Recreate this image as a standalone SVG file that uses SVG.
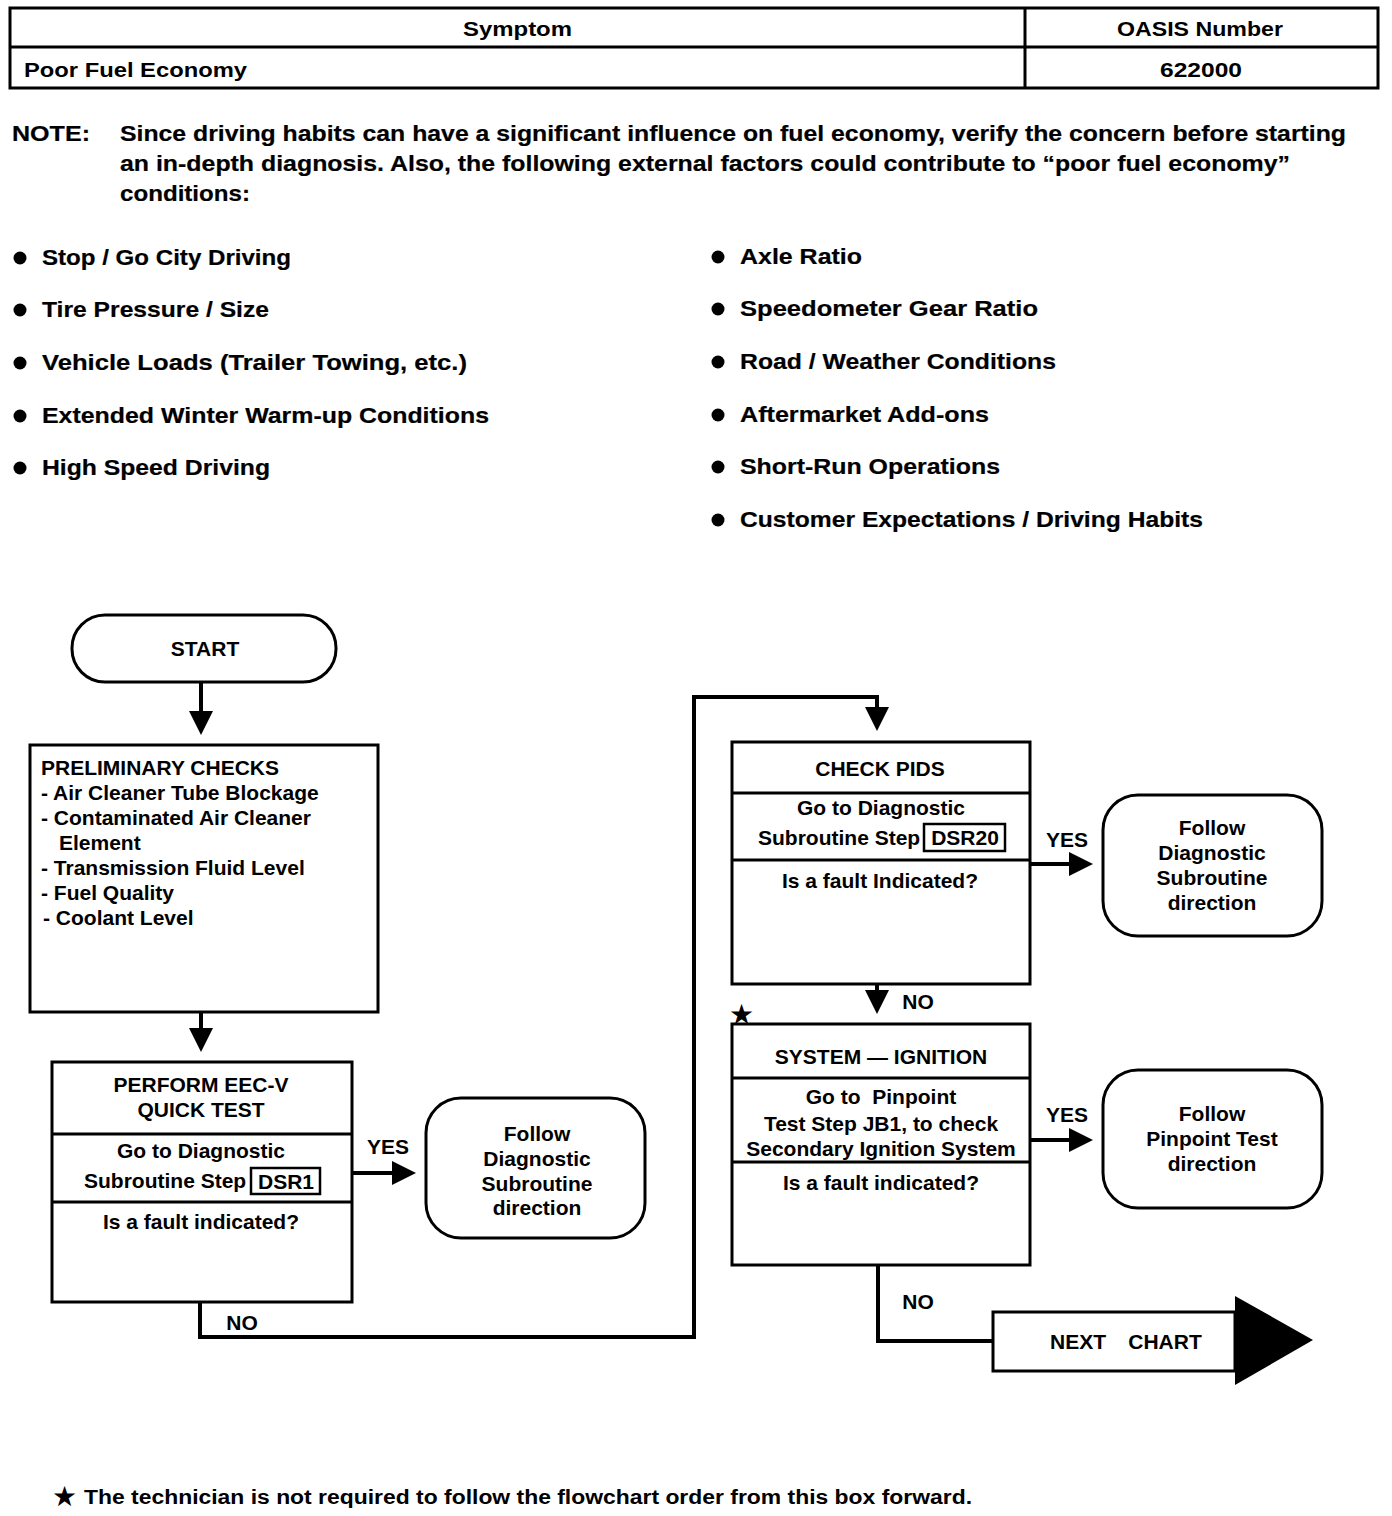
<svg xmlns="http://www.w3.org/2000/svg" width="1392" height="1516" viewBox="0 0 1392 1516">
<style>
text{font-family:"Liberation Sans",Arial,sans-serif;fill:#000}
.t{font-size:22px;font-weight:bold;stroke:#000;stroke-width:0.2}
.f{font-size:21px;font-weight:bold}
.c{text-anchor:middle}
.b{font-weight:bold}
.box{fill:#fff;stroke:#000;stroke-width:3}
.ln{fill:none;stroke:#000;stroke-width:4}
.dv{stroke:#000;stroke-width:3}
</style>
<defs>
<marker id="ah" markerWidth="6" markerHeight="6" refX="5" refY="3" orient="auto" markerUnits="strokeWidth">
<path d="M0,0 L6,3 L0,6 Z" fill="#000"/>
</marker>
</defs>
<rect width="1392" height="1516" fill="#fff"/>

<g id="header">
<rect x="10" y="8" width="1368" height="80" fill="none" stroke="#000" stroke-width="3"/>
<line x1="10" y1="47" x2="1378" y2="47" class="dv"/>
<line x1="1025" y1="8" x2="1025" y2="88" class="dv"/>
<text x="463" y="36" class="b" font-size="21" textLength="109" lengthAdjust="spacingAndGlyphs">Symptom</text>
<text x="1117" y="36" class="b" font-size="21" textLength="166" lengthAdjust="spacingAndGlyphs">OASIS Number</text>
<text x="24" y="77" class="b" font-size="21" textLength="223" lengthAdjust="spacingAndGlyphs">Poor Fuel Economy</text>
<text x="1160" y="77" class="b" font-size="21" textLength="82" lengthAdjust="spacingAndGlyphs">622000</text>
</g>

<g id="note">
<text x="12" y="141" class="t" textLength="78" lengthAdjust="spacingAndGlyphs">NOTE:</text>
<text x="120" y="141" class="t" textLength="1226" lengthAdjust="spacingAndGlyphs">Since driving habits can have a significant influence on fuel economy, verify the concern before starting</text>
<text x="120" y="171" class="t" textLength="1170" lengthAdjust="spacingAndGlyphs">an in-depth diagnosis. Also, the following external factors could contribute to “poor fuel economy”</text>
<text x="120" y="201" class="t" textLength="130" lengthAdjust="spacingAndGlyphs">conditions:</text>
</g>

<g id="bullets">
<circle cx="20" cy="258" r="6.5"/><text x="42" y="265" class="t" textLength="249" lengthAdjust="spacingAndGlyphs">Stop / Go City Driving</text>
<circle cx="20" cy="310" r="6.5"/><text x="42" y="317" class="t" textLength="227" lengthAdjust="spacingAndGlyphs">Tire Pressure / Size</text>
<circle cx="20" cy="363" r="6.5"/><text x="42" y="370" class="t" textLength="425" lengthAdjust="spacingAndGlyphs">Vehicle Loads (Trailer Towing, etc.)</text>
<circle cx="20" cy="416" r="6.5"/><text x="42" y="423" class="t" textLength="447" lengthAdjust="spacingAndGlyphs">Extended Winter Warm-up Conditions</text>
<circle cx="20" cy="468" r="6.5"/><text x="42" y="475" class="t" textLength="228" lengthAdjust="spacingAndGlyphs">High Speed Driving</text>
<circle cx="718" cy="257" r="6.5"/><text x="740" y="264" class="t" textLength="122" lengthAdjust="spacingAndGlyphs">Axle Ratio</text>
<circle cx="718" cy="309" r="6.5"/><text x="740" y="316" class="t" textLength="298" lengthAdjust="spacingAndGlyphs">Speedometer Gear Ratio</text>
<circle cx="718" cy="362" r="6.5"/><text x="740" y="369" class="t" textLength="316" lengthAdjust="spacingAndGlyphs">Road / Weather Conditions</text>
<circle cx="718" cy="415" r="6.5"/><text x="740" y="422" class="t" textLength="249" lengthAdjust="spacingAndGlyphs">Aftermarket Add-ons</text>
<circle cx="718" cy="467" r="6.5"/><text x="740" y="474" class="t" textLength="260" lengthAdjust="spacingAndGlyphs">Short-Run Operations</text>
<circle cx="718" cy="520" r="6.5"/><text x="740" y="527" class="t" textLength="463" lengthAdjust="spacingAndGlyphs">Customer Expectations / Driving Habits</text>
</g>

<g id="connectors">
<line x1="201" y1="683" x2="201" y2="731" class="ln" marker-end="url(#ah)"/>
<line x1="201" y1="1013" x2="201" y2="1048" class="ln" marker-end="url(#ah)"/>
<line x1="353" y1="1173" x2="412" y2="1173" class="ln" marker-end="url(#ah)"/>
<polyline points="200,1303 200,1337 694,1337 694,697 877,697 877,727" class="ln" marker-end="url(#ah)"/>
<line x1="1031" y1="864" x2="1089" y2="864" class="ln" marker-end="url(#ah)"/>
<line x1="877" y1="985" x2="877" y2="1010" class="ln" marker-end="url(#ah)"/>
<line x1="1031" y1="1140" x2="1089" y2="1140" class="ln" marker-end="url(#ah)"/>
<polyline points="878,1266 878,1341 993,1341" class="ln"/>
<text x="388" y="1154" class="f c">YES</text>
<text x="242" y="1330" class="f c">NO</text>
<text x="1067" y="847" class="f c">YES</text>
<text x="918" y="1009" class="f c">NO</text>
<text x="1067" y="1122" class="f c">YES</text>
<text x="918" y="1309" class="f c">NO</text>
</g>

<g id="start">
<rect x="72" y="615" width="264" height="67" rx="33" class="box"/>
<text x="205" y="656" class="f c">START</text>
</g>

<g id="preliminary">
<rect x="30" y="745" width="348" height="267" class="box"/>
<text x="41" y="775" class="f">PRELIMINARY CHECKS</text>
<text x="41" y="800" class="f">- Air Cleaner Tube Blockage</text>
<text x="41" y="825" class="f">- Contaminated Air Cleaner</text>
<text x="59" y="850" class="f">Element</text>
<text x="41" y="875" class="f">- Transmission Fluid Level</text>
<text x="41" y="900" class="f">- Fuel Quality</text>
<text x="43" y="925" class="f">- Coolant Level</text>
</g>

<g id="quicktest">
<rect x="52" y="1062" width="300" height="240" class="box"/>
<line x1="52" y1="1134" x2="352" y2="1134" class="dv"/>
<line x1="52" y1="1202" x2="352" y2="1202" class="dv"/>
<text x="201" y="1092" class="f c">PERFORM EEC-V</text>
<text x="201" y="1117" class="f c">QUICK TEST</text>
<text x="201" y="1158" class="f c">Go to Diagnostic</text>
<text x="84" y="1188" class="f">Subroutine Step</text>
<rect x="251" y="1168" width="69" height="26" fill="none" stroke="#000" stroke-width="2.5"/>
<text x="286" y="1189" class="f c">DSR1</text>
<text x="201" y="1229" class="f c">Is a fault indicated?</text>
</g>

<g id="follow1">
<rect x="426" y="1098" width="219" height="140" rx="35" class="box"/>
<text x="537" y="1141" class="f c">Follow</text>
<text x="537" y="1166" class="f c">Diagnostic</text>
<text x="537" y="1191" class="f c">Subroutine</text>
<text x="537" y="1215" class="f c">direction</text>
</g>

<g id="checkpids">
<rect x="732" y="742" width="298" height="242" class="box"/>
<line x1="732" y1="793" x2="1030" y2="793" class="dv"/>
<line x1="732" y1="860" x2="1030" y2="860" class="dv"/>
<text x="880" y="776" class="f c">CHECK PIDS</text>
<text x="881" y="815" class="f c">Go to Diagnostic</text>
<text x="758" y="845" class="f">Subroutine Step</text>
<rect x="924" y="824" width="81" height="27" fill="none" stroke="#000" stroke-width="2.5"/>
<text x="965" y="845" class="f c">DSR20</text>
<text x="880" y="888" class="f c">Is a fault Indicated?</text>
</g>

<g id="follow2">
<rect x="1103" y="795" width="219" height="141" rx="35" class="box"/>
<text x="1212" y="835" class="f c">Follow</text>
<text x="1212" y="860" class="f c">Diagnostic</text>
<text x="1212" y="885" class="f c">Subroutine</text>
<text x="1212" y="910" class="f c">direction</text>
</g>

<g id="ignition">
<text x="741" y="1024" font-size="28" class="c">★</text>
<rect x="732" y="1024" width="298" height="241" class="box"/>
<line x1="732" y1="1078" x2="1030" y2="1078" class="dv"/>
<line x1="732" y1="1162" x2="1030" y2="1162" class="dv"/>
<text x="881" y="1064" class="f c">SYSTEM — IGNITION</text>
<text x="881" y="1104" class="f c" xml:space="preserve">Go to  Pinpoint</text>
<text x="881" y="1131" class="f c">Test Step JB1, to check</text>
<text x="881" y="1156" class="f c">Secondary Ignition System</text>
<text x="881" y="1190" class="f c">Is a fault indicated?</text>
</g>

<g id="follow3">
<rect x="1103" y="1070" width="219" height="138" rx="35" class="box"/>
<text x="1212" y="1121" class="f c">Follow</text>
<text x="1212" y="1146" class="f c">Pinpoint Test</text>
<text x="1212" y="1171" class="f c">direction</text>
</g>

<g id="nextchart">
<rect x="993" y="1312" width="242" height="59" class="box"/>
<polygon points="1235,1296 1313,1340 1235,1385" fill="#000"/>
<text x="1078" y="1349" class="f c">NEXT</text>
<text x="1165" y="1349" class="f c" font-weight="normal">CHART</text>
</g>

<g id="footnote">
<text x="64" y="1506" font-size="28" class="c">★</text>
<text x="84" y="1504" class="b" font-size="20" textLength="888" lengthAdjust="spacingAndGlyphs">The technician is not required to follow the flowchart order from this box forward.</text>
</g>
</svg>
